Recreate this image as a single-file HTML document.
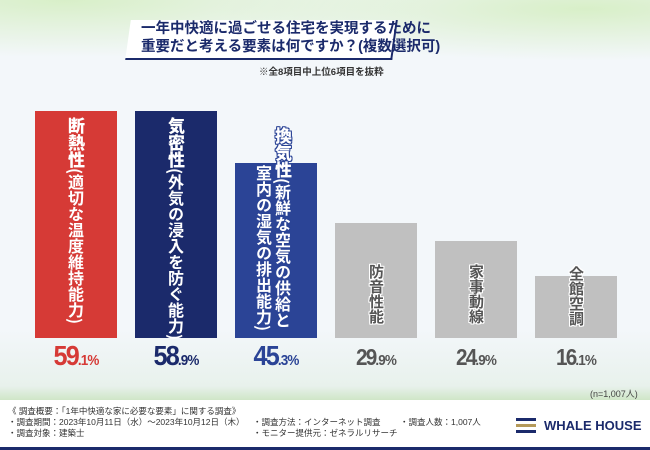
<!DOCTYPE html><html><head><meta charset="utf-8"><style>
body{margin:0;width:650px;height:450px;overflow:hidden;position:relative;background:#f3f7fa;font-family:"Liberation Sans","Noto Sans CJK JP",sans-serif}
.a{position:absolute}
.bar{position:absolute;width:82px;bottom:112px}
.v{position:absolute;writing-mode:vertical-rl;white-space:nowrap;font-weight:bold;font-size:16px;line-height:16px;font-family:"Noto Sans CJK JP",sans-serif}
.w{color:#fff}
.o{text-shadow:1px 0 #fff,-1px 0 #fff,0 1px #fff,0 -1px #fff,1px 1px #fff,-1px -1px #fff,1px -1px #fff,-1px 1px #fff}
.n{color:#fff;text-shadow:1px 0 #2b4496,-1px 0 #2b4496,0 1px #2b4496,0 -1px #2b4496,1px 1px #2b4496,-1px -1px #2b4496,1px -1px #2b4496,-1px 1px #2b4496}
.v b{font-size:17px}
.g{font-size:15px;color:#555;top:264px;font-weight:bold}
.pct{position:absolute;top:340px;width:82px;text-align:center;font-weight:bold;font-size:28px;letter-spacing:-2px;transform:scaleX(.9)}
.pct small{font-size:15px;letter-spacing:-1px}
.ft{font-size:8.5px;color:#333;line-height:11px;white-space:nowrap}
</style></head><body>
<div class="a" style="left:0;top:0;width:650px;height:90px;background:radial-gradient(ellipse at 10% 0,#d8efc8 0,transparent 45%),radial-gradient(ellipse at 90% 10%,#d8efc8 0,transparent 45%)"></div>
<div class="a" style="left:0;top:330px;width:650px;height:70px;background:linear-gradient(#f3f7fa,#e8f1ec 80%,#cfe6c7)"></div>
<div class="a" style="left:128px;top:20px;width:265px;height:38px;background:#fff;transform:skewX(-8deg);border-bottom:2px solid #1b2a6b;border-right:2px solid #1b2a6b"></div>
<div class="a" style="left:141px;top:20px;font-size:14.5px;font-weight:bold;color:#1b2a6b;line-height:18px;white-space:nowrap">一年中快適に過ごせる住宅を実現するために<br>重要だと考える要素は何ですか？(複数選択可)</div>
<div class="a" style="left:259px;top:64px;font-size:9.5px;color:#333;font-weight:bold">※全8項目中上位6項目を抜粋</div>
<div class="bar" style="left:35px;top:111px;background:#d63a36"></div>
<div class="bar" style="left:135px;top:111px;background:#1b2a6b"></div>
<div class="bar" style="left:235px;top:163px;background:#2b4496"></div>
<div class="bar" style="left:335px;top:223px;background:#c0c0c0"></div>
<div class="bar" style="left:435px;top:241px;background:#c0c0c0"></div>
<div class="bar" style="left:535px;top:276px;background:#c0c0c0"></div>
<div class="v w" style="left:68px;top:117px"><b>断熱性</b>(適切な温度維持能力)</div>
<div class="v w" style="left:168px;top:117px"><b>気密性</b>(外気の浸入を防ぐ能力)</div>
<div class="v n" style="left:275px;top:127px"><b>換気性</b>(新鮮な空気の供給と</div>
<div class="v w" style="left:256px;top:165px">室内の湿気の排出能力)</div>
<div class="v g o" style="left:368px">防音性能</div>
<div class="v g o" style="left:468px">家事動線</div>
<div class="v g o" style="left:568px;top:266px">全館空調</div>
<div class="pct" style="left:35px;color:#d63a36">59<small>.1%</small></div>
<div class="pct" style="left:135px;color:#1b2a6b">58<small>.9%</small></div>
<div class="pct" style="left:235px;color:#2b4496">45<small>.3%</small></div>
<div class="pct" style="left:335px;color:#555;font-size:23px;top:344px">29<small>.9%</small></div>
<div class="pct" style="left:435px;color:#555;font-size:23px;top:344px">24<small>.9%</small></div>
<div class="pct" style="left:535px;color:#555;font-size:23px;top:344px">16<small>.1%</small></div>
<div class="a" style="left:590px;top:387px;font-size:9px;color:#444">(n=1,007人)</div>
<div class="a" style="left:0;top:400px;width:650px;height:47px;background:#fff"></div>
<div class="a" style="left:0;top:447px;width:650px;height:3px;background:#1b2a6b"></div>
<div class="a ft" style="left:8px;top:406px">《 調査概要：「1年中快適な家に必要な要素」に関する調査》<br>・調査期間：2023年10月11日（水）～2023年10月12日（木）<br>・調査対象：建築士</div>
<div class="a ft" style="left:253px;top:417px">・調査方法：インターネット調査<br>・モニター提供元：ゼネラルリサーチ</div>
<div class="a ft" style="left:400px;top:417px">・調査人数：1,007人</div>
<div class="a" style="left:516px;top:418px;width:20px;height:3px;background:#1b2a6b"></div>
<div class="a" style="left:516px;top:424px;width:20px;height:3px;background:#b59a5a"></div>
<div class="a" style="left:516px;top:430px;width:20px;height:3px;background:#1b2a6b"></div>
<div class="a" style="left:544px;top:418px;font-size:13px;font-weight:bold;color:#1b2a6b">WHALE HOUSE</div>
</body></html>
